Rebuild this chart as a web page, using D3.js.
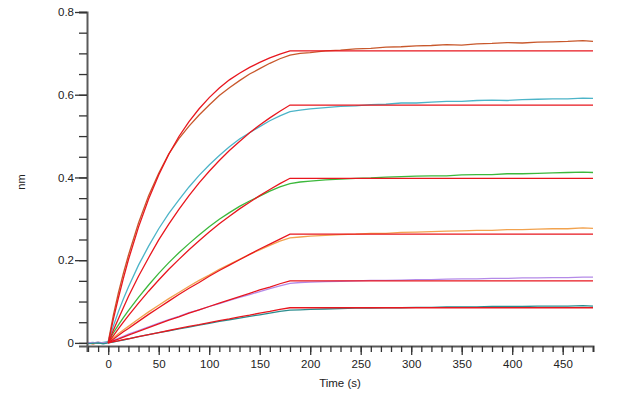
<!DOCTYPE html>
<html>
<head>
<meta charset="utf-8">
<script src="https://cdn.jsdelivr.net/npm/d3@7"></script>
<style>
  body { margin: 0; background: #fff; }
  svg { display: block; font-family: "Liberation Sans", Arial, sans-serif; }
</style>
</head>
<body>
<svg width="631" height="398"></svg>
<script>
// time points (s) for the fitted curves and for the measured traces
const fitTime = [0, 5, 10, 15, 20, 30, 40, 50, 60, 70, 80, 90, 100, 110, 120, 130, 140, 150, 160, 170, 180, 480];
const dataTime = [-21, -15, -10, -5, 0, 5, 10, 15, 20, 30, 40, 50, 60, 70, 80, 90, 100, 110, 120, 130, 140, 150, 160, 170, 180,
  190, 200, 215, 230, 245, 260, 275, 290, 305, 320, 335, 350, 365, 380, 395, 410, 425, 440, 455, 470, 480];

// fitted curves (nm)
const fit1 = [0, 0.056, 0.108, 0.156, 0.201, 0.280, 0.348, 0.406, 0.456, 0.499, 0.535, 0.566, 0.593, 0.616, 0.636, 0.652, 0.666, 0.678, 0.689, 0.698, 0.706, 0.706];
const fit2 = [0, 0.030, 0.058, 0.085, 0.112, 0.161, 0.206, 0.249, 0.287, 0.323, 0.356, 0.387, 0.415, 0.441, 0.465, 0.487, 0.508, 0.527, 0.544, 0.560, 0.575, 0.575];
const fit3 = [0, 0.017, 0.034, 0.050, 0.066, 0.096, 0.125, 0.152, 0.178, 0.202, 0.225, 0.247, 0.268, 0.288, 0.306, 0.324, 0.340, 0.356, 0.371, 0.385, 0.398, 0.398];
const fit4 = [0, 0.009, 0.018, 0.027, 0.035, 0.052, 0.069, 0.085, 0.101, 0.117, 0.132, 0.146, 0.161, 0.175, 0.188, 0.201, 0.214, 0.227, 0.239, 0.251, 0.263, 0.263];
const fit5 = [0, 0.005, 0.009, 0.014, 0.019, 0.028, 0.037, 0.046, 0.055, 0.063, 0.072, 0.080, 0.088, 0.096, 0.104, 0.112, 0.120, 0.128, 0.135, 0.143, 0.150, 0.150];
const fit6 = [0, 0.003, 0.005, 0.008, 0.010, 0.015, 0.020, 0.025, 0.030, 0.035, 0.040, 0.044, 0.049, 0.054, 0.058, 0.063, 0.067, 0.072, 0.076, 0.081, 0.085, 0.085];

// measured traces (nm)
const trace1 = [0.001, -0.002, 0.000, -0.001, 0.002, 0.066, 0.120, 0.168, 0.212, 0.290, 0.356, 0.410, 0.457, 0.494, 0.524, 0.551, 0.575, 0.598, 0.617, 0.634, 0.650, 0.663, 0.676, 0.687, 0.696,
  0.700, 0.702, 0.706, 0.708, 0.711, 0.712, 0.715, 0.716, 0.718, 0.719, 0.721, 0.720, 0.723, 0.724, 0.726, 0.725, 0.727, 0.728, 0.729, 0.731, 0.729];
const trace2 = [0.000, 0.001, -0.001, 0.001, 0.003, 0.040, 0.075, 0.106, 0.135, 0.188, 0.234, 0.276, 0.313, 0.346, 0.377, 0.405, 0.430, 0.453, 0.474, 0.493, 0.508, 0.523, 0.537, 0.549, 0.559,
  0.563, 0.566, 0.569, 0.572, 0.573, 0.576, 0.577, 0.580, 0.580, 0.582, 0.584, 0.584, 0.586, 0.587, 0.586, 0.588, 0.589, 0.590, 0.590, 0.592, 0.591];
const trace3 = [-0.001, 0.000, 0.001, -0.001, 0.002, 0.024, 0.043, 0.061, 0.078, 0.110, 0.140, 0.168, 0.194, 0.218, 0.240, 0.261, 0.281, 0.299, 0.315, 0.330, 0.343, 0.355, 0.367, 0.377, 0.385,
  0.389, 0.391, 0.394, 0.396, 0.398, 0.399, 0.401, 0.402, 0.403, 0.404, 0.404, 0.406, 0.407, 0.407, 0.409, 0.409, 0.410, 0.411, 0.412, 0.413, 0.412];
const trace4 = [0.000, -0.002, 0.001, 0.000, 0.001, 0.012, 0.022, 0.031, 0.040, 0.058, 0.075, 0.091, 0.107, 0.122, 0.137, 0.151, 0.164, 0.178, 0.190, 0.202, 0.214, 0.225, 0.236, 0.246, 0.254,
  0.256, 0.258, 0.260, 0.262, 0.263, 0.265, 0.265, 0.267, 0.268, 0.269, 0.270, 0.271, 0.272, 0.272, 0.274, 0.274, 0.275, 0.276, 0.276, 0.278, 0.277];
const trace5 = [0.001, 0.000, 0.002, 0.000, 0.002, 0.006, 0.011, 0.016, 0.021, 0.030, 0.039, 0.048, 0.056, 0.064, 0.073, 0.080, 0.088, 0.095, 0.103, 0.110, 0.117, 0.124, 0.131, 0.138, 0.144,
  0.146, 0.147, 0.148, 0.149, 0.150, 0.151, 0.151, 0.152, 0.153, 0.153, 0.154, 0.155, 0.155, 0.156, 0.156, 0.157, 0.157, 0.158, 0.158, 0.159, 0.159];
const trace6 = [-0.002, -0.001, 0.000, -0.002, 0.000, 0.002, 0.005, 0.007, 0.010, 0.015, 0.020, 0.025, 0.029, 0.034, 0.038, 0.043, 0.047, 0.052, 0.056, 0.060, 0.064, 0.068, 0.072, 0.076, 0.079,
  0.080, 0.081, 0.082, 0.083, 0.084, 0.084, 0.085, 0.085, 0.086, 0.086, 0.087, 0.087, 0.087, 0.088, 0.088, 0.088, 0.089, 0.089, 0.089, 0.090, 0.089];

const traceColors = ["#c8582c", "#4cb4c8", "#3cb83c", "#f2a24e", "#b48ae8", "#2a8c8e"];
const fitColor = "#e8161e";

const xMajor = [0, 50, 100, 150, 200, 250, 300, 350, 400, 450];
const yMajor = [0, 0.2, 0.4, 0.6, 0.8];

const svg = d3.select("svg");

const xScale = d3.scaleLinear().domain([-21, 480]).range([87, 593]);
const yScale = d3.scaleLinear().domain([-0.0075, 0.8]).range([346, 12]);

const traces = [trace1, trace2, trace3, trace4, trace5, trace6];
const fits = [fit1, fit2, fit3, fit4, fit5, fit6];

const line = d3
  .line()
  .x((d) => xScale(d[0]))
  .y((d) => yScale(d[1]));

svg
  .append("g")
  .selectAll("path")
  .data(traces)
  .enter()
  .append("path")
  .attr("d", (vals) => line(vals.map((v, i) => [dataTime[i], v])))
  .attr("fill", "none")
  .attr("stroke", (d, i) => traceColors[i])
  .attr("stroke-width", 1.3);

svg
  .append("g")
  .selectAll("path")
  .data(fits)
  .enter()
  .append("path")
  .attr("d", (vals) => line(vals.map((v, i) => [fitTime[i], v])))
  .attr("fill", "none")
  .attr("stroke", fitColor)
  .attr("stroke-width", 1.3);

// x axis: minor ticks every 10 s, labels every 50 s
const xAxis = svg.append("g").attr("transform", `translate(0,${yScale.range()[0]})`);

xAxis
  .call(
    d3.axisBottom(xScale)
      .tickValues(d3.range(-20, 481, 10))
      .tickSize(6)
      .tickFormat(""),
  );

xAxis
  .append("g")
  .call(
    d3.axisBottom(xScale)
      .tickValues(xMajor)
      .tickSize(9)
      .tickPadding(5)
      .tickFormat(d3.format("d")),
  )
  .call((g) => g.select(".domain").remove());

// y axis: minor ticks every 0.05, labels every 0.2
const yAxis = svg.append("g").attr("transform", `translate(${xScale.range()[0]},0)`);

yAxis
  .call(
    d3.axisLeft(yScale)
      .tickValues(d3.range(0, 0.8001, 0.05))
      .tickSize(8)
      .tickFormat(""),
  );

yAxis
  .append("g")
  .call(
    d3.axisLeft(yScale)
      .tickValues(yMajor)
      .tickSize(12)
      .tickPadding(1)
      .tickFormat((d) => (d === 0 ? "0" : d3.format(".1f")(d))),
  )
  .call((g) => g.select(".domain").remove());

svg.selectAll(".domain").attr("stroke", "#5a5a5a").attr("stroke-width", 2);
svg.selectAll(".tick line").attr("stroke", "#333").attr("stroke-width", 1.3);
svg.selectAll(".tick text").attr("fill", "#222").style("font-size", "11.5px");

svg
  .append("text")
  .attr("x", 340)
  .attr("y", 387)
  .attr("text-anchor", "middle")
  .style("font-size", "11.5px")
  .attr("fill", "#222")
  .text("Time (s)");

svg
  .append("text")
  .attr("transform", "translate(25,182) rotate(-90)")
  .attr("text-anchor", "middle")
  .style("font-size", "11px")
  .attr("fill", "#222")
  .text("nm");
</script>
</body>
</html>
